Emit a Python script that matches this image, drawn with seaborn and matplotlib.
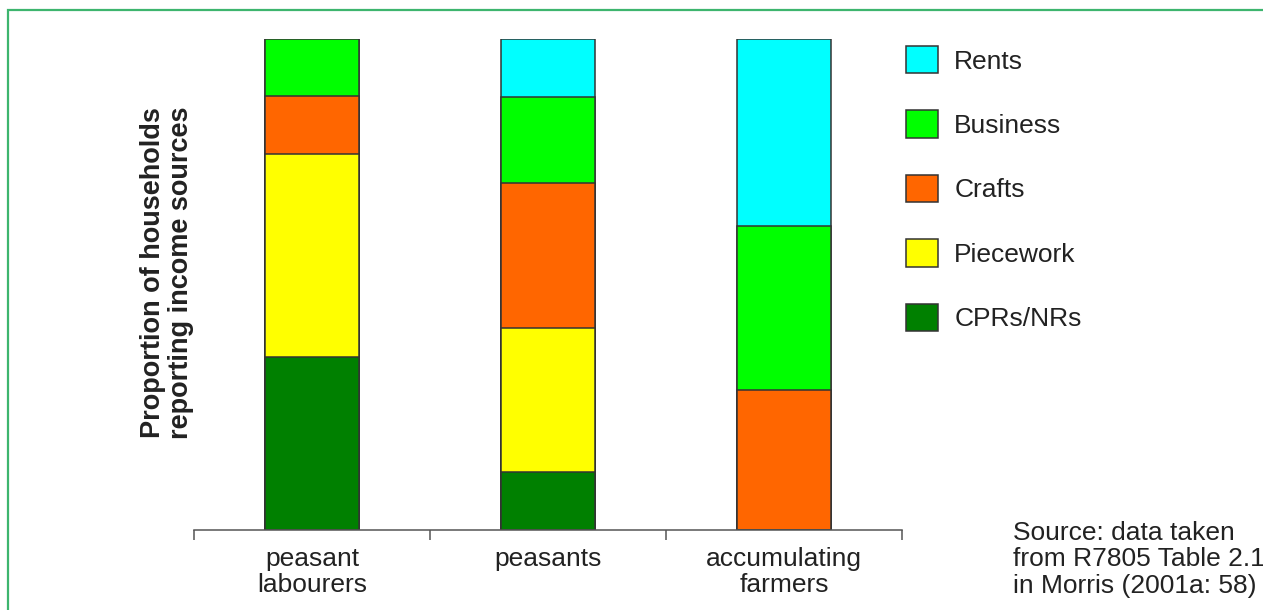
import numpy as np
import pandas as pd
import matplotlib.pyplot as plt
import seaborn as sns
from matplotlib.patches import Patch, Rectangle

# data (share of households, %)
groups = ["peasant\nlabourers", "peasants", "accumulating\nfarmers"]
sources = ["CPRs/NRs", "Piecework", "Crafts", "Business", "Rents"]
cprs = [35.3, 11.8, 0.0]
piecework = [41.2, 29.4, 0.0]
crafts = [11.8, 29.4, 28.6]
business = [11.7, 17.6, 33.3]
rents = [0.0, 11.8, 38.1]

colors = {
    "Rents": "#00FFFF",
    "Business": "#00FF00",
    "Crafts": "#FF6600",
    "Piecework": "#FFFF00",
    "CPRs/NRs": "#008000",
}
edge = "#333333"
text_color = "#222222"
FS = 19


def main():
    sns.set_style("white")
    plt.rcParams["font.family"] = ["Liberation Sans", "DejaVu Sans"]

    df = pd.DataFrame({
        "group": groups,
        "CPRs/NRs": cprs,
        "Piecework": piecework,
        "Crafts": crafts,
        "Business": business,
        "Rents": rents,
    })
    # running totals, bottom layer first
    cum = df[sources].cumsum(axis=1)

    fig = plt.figure(figsize=(12.63, 6.10), dpi=100)
    ax = fig.add_axes([194 / 1263, 1 - 530 / 610, 708 / 1263, 491 / 610])

    # draw tallest stack first, then overlay the shorter running totals
    for src in reversed(sources):
        sub = pd.DataFrame({"group": df["group"], "val": cum[src]})
        sns.barplot(data=sub, x="group", y="val", ax=ax, color=colors[src],
                    saturation=1, width=0.4, edgecolor=edge, linewidth=1.1,
                    errorbar=None)

    ax.set_xlim(-0.5, 2.5)
    ax.set_ylim(0, 100)
    ax.set_xlabel("")
    ax.set_ylabel("Proportion of households\nreporting income sources",
                  fontsize=19.5, fontweight="bold", color=text_color,
                  linespacing=1.08)
    ax.yaxis.set_label_coords(0.0, 0.524)
    ax.set_yticks([])
    for s in ["top", "right", "left"]:
        ax.spines[s].set_visible(False)
    ax.spines["bottom"].set_color("#555555")
    ax.spines["bottom"].set_linewidth(1.1)

    ax.set_xticks(range(len(groups)))
    ax.set_xticklabels(groups, fontsize=FS, color=text_color, linespacing=1.1)
    ax.tick_params(axis="x", which="major", bottom=True, length=0, pad=12)
    ax.set_xticks([-0.5, 0.5, 1.5, 2.5], minor=True)
    ax.tick_params(axis="x", which="minor", bottom=True, length=7.5,
                   width=1.1, color="#555555", direction="out")
    ax.grid(False)

    handles = [Patch(facecolor=colors[s], edgecolor=edge, linewidth=1.1,
                     label=s) for s in reversed(sources)]
    fig.legend(handles=handles, loc="upper left",
               bbox_to_anchor=(906 / 1263, 1 - 46 / 610), frameon=False,
               fontsize=FS, handlelength=1.21, handleheight=1.21,
               handletextpad=0.62, labelspacing=1.4, borderpad=0,
               borderaxespad=0, labelcolor=text_color)

    fig.text(1013 / 1263, 1 - 521 / 610,
             "Source: data taken\nfrom R7805 Table 2.1\nin Morris (2001a: 58)",
             fontsize=FS, color=text_color, va="top", ha="left",
             linespacing=1.12)

    # green frame, cut off at right and bottom
    fig.patches.append(Rectangle((8 / 1263, -0.1), 1.2, 1 - 10 / 610 + 0.1,
                                 transform=fig.transFigure, fill=False,
                                 edgecolor="#3DB56E", linewidth=1.6))

    fig.savefig("out.png", dpi=100)
    plt.close(fig)


if __name__ == "__main__":
    main()
